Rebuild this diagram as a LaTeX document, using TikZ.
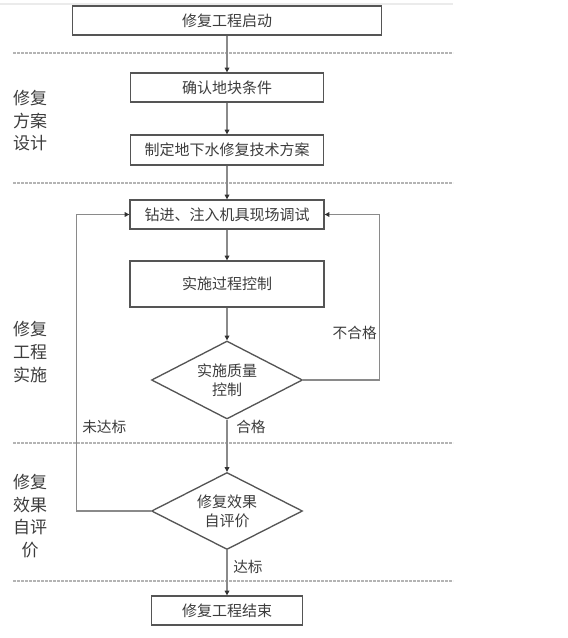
\documentclass[tikz,border=0pt]{standalone}
\usepackage{fontspec}
\usepackage{xcolor}
\usepackage{tikz}
\usetikzlibrary{shapes.geometric, arrows.meta, positioning, calc}
\setmainfont{Noto Sans CJK SC}
\definecolor{boxline}{HTML}{555555}
\definecolor{linkline}{HTML}{8A8A8A}
\definecolor{sepline}{HTML}{B4B4B4}
\definecolor{txt}{HTML}{3C3C3C}
\tikzset{
  stepbox/.style={draw=boxline, line width=1pt, rectangle, inner sep=0pt, text=txt, font=\fontsize{11.25}{14}\selectfont},
  decision/.style={draw=boxline, line width=1pt, diamond, aspect=1.9, inner sep=0pt, align=center, text=txt, font=\fontsize{11.25}{14.2}\selectfont},
  arr/.style={draw=linkline, line width=0.8pt, -{Triangle[length=3.5pt,width=3.5pt,color=black!80]}},
  sep/.style={draw=sepline, line width=0.8pt, dash pattern=on 2pt off 1pt},
  stage/.style={align=center, text=txt, font=\fontsize{12.75}{16.9}\selectfont},
  tag/.style={text=txt, inner sep=0pt, font=\fontsize{11}{13}\selectfont}
}
\begin{document}
\begin{tikzpicture}[x=0.75pt, y=-0.75pt]
\useasboundingbox (0,0) rectangle (567,638);
\draw[draw=black!8, line width=0.8pt] (0,4) -- (453,4);
% stage separators
\foreach \y in {53,183,443,581}
  \draw[sep] (13,\y) -- (453,\y);
% stage names
\node[stage] (design) at (30,121) {修复\\方案\\设计};
\node[stage] (build) at (30,352) {修复\\工程\\实施};
\node[stage] (review) at (30,516) {修复\\效果\\自评\\价};
% steps
\node[stepbox, minimum width=309*0.75pt, minimum height=29*0.75pt] (start) at (227,20.5) {修复工程启动};
\node[stepbox, minimum width=193*0.75pt, minimum height=29*0.75pt] (confirm) at (227,87.5) {确认地块条件};
\node[stepbox, minimum width=193*0.75pt, minimum height=30*0.75pt] (plan) at (227,150) {制定地下水修复技术方案};
\node[stepbox, minimum width=194*0.75pt, minimum height=29*0.75pt] (debug) at (227,214.5) {钻进、注入机具现场调试};
\node[stepbox, minimum width=194*0.75pt, minimum height=46*0.75pt] (process) at (227,284) {实施过程控制};
\node[decision, minimum width=151*0.75pt, minimum height=78*0.75pt] (quality) at (227,380) {实施质量\\控制};
\node[decision, minimum width=151*0.75pt, minimum height=77*0.75pt] (evaluate) at (227,511) {修复效果\\自评价};
\node[stepbox, minimum width=151*0.75pt, minimum height=29*0.75pt] (finish) at (227,610.5) {修复工程结束};
% flow
\draw[arr] (start) -- (confirm);
\draw[arr] (confirm) -- (plan);
\draw[arr] (plan) -- (debug);
\draw[arr] (debug) -- (process);
\draw[arr] (process) -- (quality);
\draw[arr] (quality) -- (evaluate);
\draw[arr] (evaluate) -- (finish);
\draw[arr] (quality.east) -- ++(76,0) |- (debug.east);
\draw[arr] (evaluate.west) -- ++(-74,0) |- (debug.west);
% branch labels
\node[tag, anchor=east] (fail) at (377,333) {不合格};
\node[tag, anchor=west] (pass) at (236,427) {合格};
\node[tag, anchor=west] (miss) at (82,427) {未达标};
\node[tag, anchor=west] (meet) at (233,567) {达标};
\end{tikzpicture}
\end{document}
